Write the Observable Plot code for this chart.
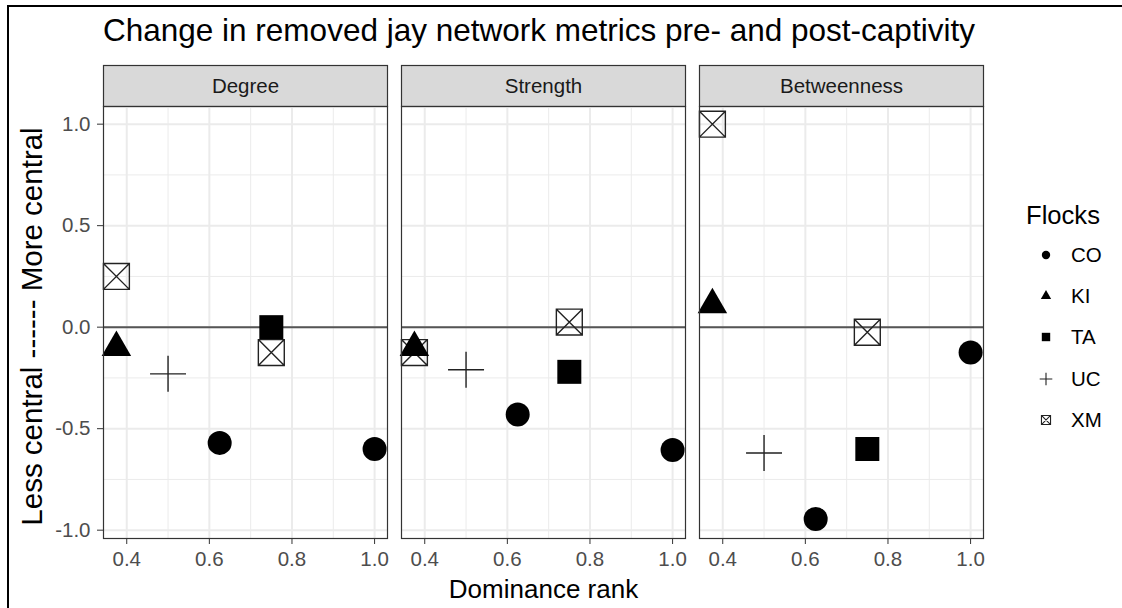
<!DOCTYPE html>
<html>
<head>
<meta charset="utf-8">
<script src="https://cdn.jsdelivr.net/npm/d3@7"></script>
<script src="https://cdn.jsdelivr.net/npm/@observablehq/plot@0.6"></script>
<style>
  html, body { margin: 0; padding: 0; background: #fff; }
  body { width: 1122px; height: 608px; overflow: hidden; position: relative;
         font-family: "Liberation Sans", Arial, Helvetica, sans-serif; }
  #border { position: absolute; left: 7px; top: 5px; width: 1300px; height: 800px;
            border-left: 2px solid #000; border-top: 2px solid #000; pointer-events: none; }
  #title { position: absolute; left: 103px; top: 15px; font-size: 31.5px; line-height: 31px; color: #000; white-space: nowrap; }
  #chart { position: absolute; left: 0; top: 55px; }
  #legend { position: absolute; left: 1000px; top: 0; }
  .lg-title { position: absolute; left: 26px; top: 199px; font-size: 25.6px; line-height: 32px; color: #000; white-space: nowrap; }
  .lg-item { position: absolute; left: 0; height: 30px; width: 120px; }
  .lg-item svg { position: absolute; left: 34px; top: 3px; }
  .lg-item span { position: absolute; left: 71px; top: 0; font-size: 20.5px; line-height: 30px; color: #000; }
</style>
</head>
<body>
<div id="title">Change in removed jay network metrics pre- and post-captivity</div>
<div id="chart"></div>
<div id="legend"></div>
<div id="border"></div>
<script>
// ---- data ----
const flocks = ["CO", "KI", "TA", "UC", "XM"];
const metrics = ["Degree", "Strength", "Betweenness"];
const dominance = [0.375, 0.375, 0.5, 0.625, 0.75, 0.75, 1.0];
const birdFlock = ["XM", "KI", "UC", "CO", "TA", "XM", "CO"];
const degree = [0.25, -0.10, -0.23, -0.57, 0.0, -0.125, -0.60];
const strength = [-0.125, -0.10, -0.21, -0.43, -0.22, 0.025, -0.605];
const betweenness = [1.0, 0.11, -0.62, -0.945, -0.60, -0.025, -0.125];
const xTicks = [0.4, 0.6, 0.8, 1.0];
const xMinor = [0.5, 0.7, 0.9];
const yTicks = [-1.0, -0.5, 0.0, 0.5, 1.0];
const yMinor = [-0.75, -0.25, 0.25, 0.75];
const xTitle = "Dominance rank";
const yTitle = "Less central ------ More central";
const legendTitle = "Flocks";

const values = { Degree: degree, Strength: strength, Betweenness: betweenness };
const rows = [];
for (const m of metrics) {
  values[m].forEach((v, i) => rows.push({ metric: m, x: dominance[i], flock: birdFlock[i], value: v }));
}
const filledFlocks = ["CO", "KI", "TA"];

// ---- symbols (ggplot shapes 16, 17, 15, 3, 7) ----
const rad = size => Math.sqrt(size / Math.PI);
const symCircle = { draw(c, size) { const R = rad(size); c.moveTo(R, 0); c.arc(0, 0, R, 0, 2 * Math.PI); } };
const symTriangle = { draw(c, size) { const r = rad(size) * 1.42; const h = r * Math.sqrt(3) / 2;
  c.moveTo(0, -r); c.lineTo(h, r / 2); c.lineTo(-h, r / 2); c.closePath(); } };
const symSquare = { draw(c, size) { const s = rad(size); c.rect(-s, -s, 2 * s, 2 * s); } };
const symPlus = { draw(c, size) { const L = rad(size) * 1.5; c.moveTo(-L, 0); c.lineTo(L, 0); c.moveTo(0, -L); c.lineTo(0, L); } };
const symXM = { draw(c, size) { const s = rad(size) * 1.08; c.rect(-s, -s, 2 * s, 2 * s);
  c.moveTo(-s, -s); c.lineTo(s, s); c.moveTo(s, -s); c.lineTo(-s, s); } };
const symbolRange = [symCircle, symTriangle, symSquare, symPlus, symXM];

// ---- layout ----
const W = 1122, H = 553, mT = 51, mB = 70, mL = 103, mR = 139;
const panelH = H - mT - mB;
const fmt = d => d.toFixed(1);

const plot = Plot.plot({
  width: W, height: H,
  marginTop: mT, marginBottom: mB, marginLeft: mL, marginRight: mR,
  style: { fontFamily: "'Liberation Sans', Arial, Helvetica, sans-serif", background: "#fff", color: "#000", overflow: "visible" },
  fx: { domain: metrics, paddingInner: 14 / 298, paddingOuter: 0, round: false, axis: null, label: null },
  x: { domain: [0.34375, 1.03125], axis: null, label: null },
  y: { domain: [-1.041, 1.087], axis: null, label: null },
  symbol: { domain: flocks, range: symbolRange, legend: false },
  marks: [
    // strip
    Plot.frame({ fill: "#d9d9d9", stroke: "#333", strokeWidth: 1.2, insetTop: -41, insetBottom: panelH }),
    Plot.text(metrics, { fx: d => d, text: d => d, frameAnchor: "top", lineAnchor: "middle", dy: -20.5, fontSize: 20.5, fill: "#1a1a1a" }),
    // grid
    Plot.ruleX(xMinor, { x: d => d, stroke: "#ebebeb", strokeWidth: 1 }),
    Plot.ruleY(yMinor, { y: d => d, stroke: "#ebebeb", strokeWidth: 1 }),
    Plot.ruleX(xTicks, { x: d => d, stroke: "#ebebeb", strokeWidth: 2 }),
    Plot.ruleY(yTicks, { y: d => d, stroke: "#ebebeb", strokeWidth: 2 }),
    // zero line
    Plot.ruleY([0], { stroke: "#555", strokeWidth: 2 }),
    // points: open first, filled on top
    Plot.dot(rows.filter(d => !filledFlocks.includes(d.flock)), {
      fx: "metric", x: "x", y: "value", symbol: "flock", r: 12,
      fill: "none", stroke: "#222", strokeWidth: 1.4
    }),
    Plot.dot(rows.filter(d => filledFlocks.includes(d.flock)), {
      fx: "metric", x: "x", y: "value", symbol: "flock", r: 12,
      fill: "#000", stroke: "none"
    }),
    // panel border
    Plot.frame({ stroke: "#333", strokeWidth: 1.2 }),
    // axes
    Plot.axisX({ ticks: xTicks, tickFormat: fmt, tickSize: 6, tickPadding: 7, fontSize: 20.5,
      stroke: "#333", fill: "#4d4d4d", label: null }),
    Plot.axisY({ ticks: yTicks, tickFormat: fmt, tickSize: 6, tickPadding: 7, fontSize: 20.5,
      stroke: "#333", fill: "#4d4d4d", label: null }),
    // axis titles
    Plot.text([metrics[0]], { fx: d => d, text: () => yTitle, frameAnchor: "left", textAnchor: "middle",
      lineAnchor: "middle", rotate: -90, dx: -71, dy: 4, fontSize: 29.5, fill: "#000" }),
    Plot.text([metrics[1]], { fx: d => d, text: () => xTitle, frameAnchor: "bottom", lineAnchor: "middle",
      dy: 50.7, fontSize: 26, fill: "#000" })
  ]
});
document.getElementById("chart").appendChild(plot);

// ---- legend ----
const legend = document.getElementById("legend");
const lt = document.createElement("div");
lt.className = "lg-title";
lt.textContent = legendTitle;
legend.appendChild(lt);
flocks.forEach((f, i) => {
  const item = document.createElement("div");
  item.className = "lg-item";
  item.style.top = (240 + i * 41.2) + "px";
  const svg = d3.create("svg").attr("width", 24).attr("height", 24);
  const p = d3.path();
  const sym = symbolRange[i];
  sym.draw(p, Math.PI * 4.2 * 4.2);
  const filled = filledFlocks.includes(f);
  svg.append("path").attr("transform", "translate(12,12)").attr("d", p.toString())
    .attr("fill", filled ? "#000" : "none").attr("stroke", filled ? "none" : "#222").attr("stroke-width", 1.1);
  item.appendChild(svg.node());
  const s = document.createElement("span");
  s.textContent = f;
  item.appendChild(s);
  legend.appendChild(item);
});
</script>
</body>
</html>
